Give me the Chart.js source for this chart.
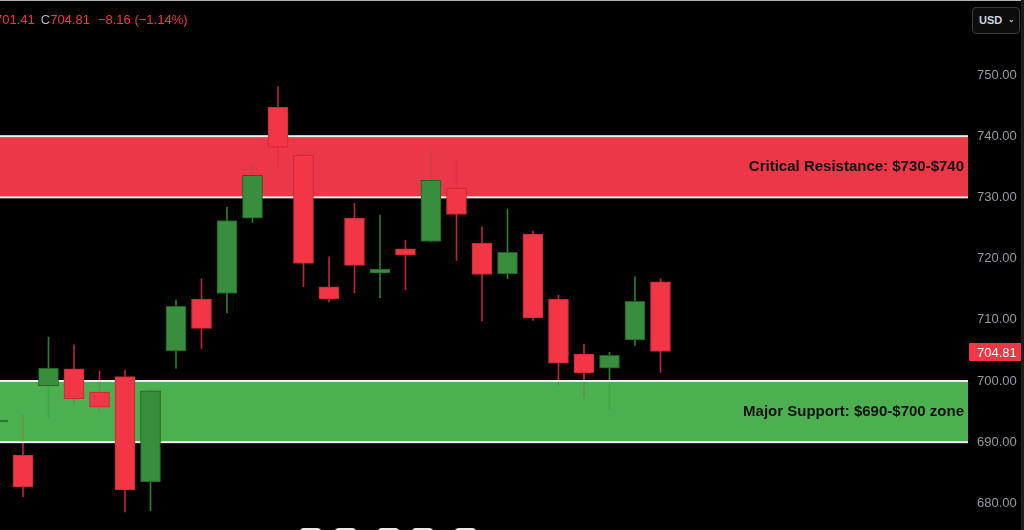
<!DOCTYPE html>
<html>
<head>
<meta charset="utf-8">
<script src="https://cdn.jsdelivr.net/npm/chart.js@4.4.1/dist/chart.umd.min.js"></script>
<style>
    html, body { margin: 0; padding: 0; background: #000; overflow: hidden; }
    #wrap { position: relative; width: 1024px; height: 530px; }
    #legend { position: absolute; left: -5px; top: 12px; font: 13px 'Liberation Sans', Arial, sans-serif; color: #f23645; white-space: nowrap; }
    #legend .c { color: #b2b5be; margin-left: 6px; }
    #legend .chg { margin-left: 8px; }
    #usd { position: absolute; left: 972px; top: 7px; width: 48px; height: 27px; box-sizing: border-box; border: 1px solid #3a3a3a; border-radius: 4px; background: #0c0c0c; color: #d1d4dc; font: bold 11px 'Liberation Sans', Arial, sans-serif; line-height: 25px; padding-left: 6px; }
    #usd span { position: absolute; right: 4px; top: -1px; font-size: 8px; color: #c0c3cb; }
    .frame-top { position: absolute; left: 0; top: 0; width: 1024px; height: 1px; background: #b0b0b0; }
    .frame-right { position: absolute; left: 1021px; top: 0; width: 3px; height: 530px; background: #1c1c1c; }
    .pill { position: absolute; top: 528px; width: 23px; height: 10px; border-radius: 5px; background: #e8e8e8; }
</style>
</head>
<body>
<div id="wrap">
    <canvas id="priceChart" width="1024" height="530"></canvas>
    <div class="frame-top"></div>
    <div class="frame-right"></div>
    <div id="legend">701.41<span class="c">C</span>704.81<span class="chg">−8.16 (−1.14%)</span></div>
    <div id="usd">USD<span>⌄</span></div>
    <div class="pill" style="left:299px"></div>
    <div class="pill" style="left:334px"></div>
    <div class="pill" style="left:377px"></div>
    <div class="pill" style="left:411px"></div>
    <div class="pill" style="left:454px"></div>
</div>
<script>
// --- data ---
const sessions = [-1, 0, 1, 2, 3, 4, 5, 6, 7, 8, 9, 10, 11, 12, 13, 14, 15, 16, 17, 18, 19, 20, 21, 22, 23, 24, 25];
const opens  = [693.3, 687.9, 699.2, 702.0, 698.2, 700.7, 683.5, 704.9, 713.4, 714.3, 726.6, 744.7, 736.9, 715.4, 726.6, 717.6, 721.6, 722.8, 731.5, 722.5, 717.5, 724.0, 713.4, 704.4, 702.1, 706.7, 716.2];
const highs  = [693.6, 694.4, 707.2, 705.9, 701.6, 701.8, 698.6, 713.2, 716.7, 728.4, 735.6, 748.1, 737.2, 720.3, 729.0, 727.1, 723.0, 737.6, 735.8, 725.2, 728.1, 724.5, 714.0, 706.0, 704.7, 717.0, 716.7];
const lows   = [693.2, 681.1, 694.0, 696.1, 695.0, 678.6, 678.8, 702.1, 705.3, 711.1, 725.9, 735.1, 715.4, 712.9, 714.4, 713.6, 714.9, 722.8, 719.7, 709.8, 716.7, 709.9, 699.3, 697.2, 695.3, 705.8, 701.4];
const closes = [693.4, 682.7, 702.1, 697.1, 695.7, 682.2, 698.4, 712.2, 708.6, 726.2, 733.6, 738.2, 719.2, 713.4, 718.9, 718.3, 720.6, 732.8, 727.2, 717.4, 721.0, 710.3, 702.9, 701.3, 704.2, 713.0, 704.81];

const tickValues = [680, 690, 700, 710, 720, 730, 740, 750];

const resistanceZone = [730, 740];
const supportZone = [690, 700];
const resistanceLabel = 'Critical Resistance: $730-$740';
const supportLabel = 'Major Support: $690-$700 zone';

const lastPrice = closes[closes.length - 1];

// --- colours ---
const UP = '#388e3c', UP_EDGE = '#1e5e22', UP_WICK = '#2e7d32';
const DOWN = '#f23645', DOWN_EDGE = '#c42a38', DOWN_WICK = '#b3283a';
const RES_FILL = '#eb3747', SUP_FILL = '#4caf50';

const isUp = sessions.map((_, i) => closes[i] >= opens[i]);

const wickData = sessions.map((x, i) => ({ x: x, y: [lows[i], highs[i]] }));
const bodyData = sessions.map((x, i) => ({ x: x, y: [Math.min(opens[i], closes[i]), Math.max(opens[i], closes[i])] }));

const zoneRect = (chart, zone) => {
    const { chartArea, scales: { y } } = chart;
    const top = y.getPixelForValue(zone[1]);
    const bottom = y.getPixelForValue(zone[0]);
    return { x: chartArea.left, y: top, w: chartArea.right - chartArea.left, h: bottom - top };
};

// zones go under the wicks, then a second wash on top of wicks (they show faintly),
// bodies are drawn last over everything
const zonePlugin = {
    id: 'zones',
    beforeDatasetsDraw(chart) {
        const { ctx } = chart;
        ctx.save();
        [[resistanceZone, RES_FILL], [supportZone, SUP_FILL]].forEach(([zone, fill]) => {
            const r = zoneRect(chart, zone);
            ctx.fillStyle = fill;
            ctx.fillRect(r.x, r.y, r.w, r.h);
        });
        ctx.restore();
    },
    beforeDatasetDraw(chart, args) {
        if (args.index !== 1) return;
        const { ctx, chartArea, scales: { y } } = chart;
        ctx.save();
        [[resistanceZone, RES_FILL, resistanceLabel], [supportZone, SUP_FILL, supportLabel]].forEach(([zone, fill, label]) => {
            const r = zoneRect(chart, zone);
            ctx.globalAlpha = 0.8;
            ctx.fillStyle = fill;
            ctx.fillRect(r.x, r.y, r.w, r.h);
            ctx.globalAlpha = 1;
            ctx.fillStyle = '#eeeeee';
            ctx.fillRect(r.x, r.y - 1, r.w, 2);
            ctx.fillRect(r.x, r.y + r.h - 1, r.w, 2);
            ctx.fillStyle = '#111';
            ctx.font = "bold 15px 'Liberation Sans', Arial, sans-serif";
            ctx.textAlign = 'right';
            ctx.textBaseline = 'middle';
            ctx.fillText(label, chartArea.right - 4, y.getPixelForValue((zone[0] + zone[1]) / 2));
        });
        ctx.restore();
    },
    afterDraw(chart) {
        const { ctx, chartArea, scales: { y } } = chart;
        const py = Math.round(y.getPixelForValue(lastPrice));
        ctx.save();
        ctx.fillStyle = '#f23645';
        ctx.fillRect(chartArea.right + 1, py - 9, 52, 18);
        ctx.fillStyle = '#ffffff';
        ctx.font = "13px 'Liberation Sans', Arial, sans-serif";
        ctx.textAlign = 'left';
        ctx.textBaseline = 'middle';
        ctx.fillText(lastPrice.toFixed(2), chartArea.right + 9, py + 1);
        ctx.restore();
    }
};

const ctx = document.getElementById('priceChart').getContext('2d');

new Chart(ctx, {
    type: 'bar',
    data: {
        datasets: [
            {
                label: 'wick',
                data: wickData,
                backgroundColor: isUp.map(u => u ? UP_WICK : DOWN_WICK),
                barThickness: 1,
                grouped: false,
                order: 2
            },
            {
                label: 'body',
                data: bodyData,
                backgroundColor: isUp.map(u => u ? UP : DOWN),
                borderColor: isUp.map(u => u ? UP_EDGE : DOWN_EDGE),
                borderWidth: 1,
                borderSkipped: false,
                barThickness: 20,
                grouped: false,
                minBarLength: 2,
                order: 1
            }
        ]
    },
    options: {
        responsive: false,
        animation: false,
        layout: { padding: 0 },
        plugins: {
            legend: { display: false },
            tooltip: { enabled: false }
        },
        scales: {
            x: {
                type: 'linear',
                min: -0.902,
                max: 37.06,
                offset: false,
                display: false
            },
            y: {
                position: 'right',
                min: 675.65,
                max: 762.25,
                grid: { display: false, drawTicks: false },
                border: { display: false },
                ticks: {
                    color: '#9598a1',
                    padding: 9,
                    font: { family: "'Liberation Sans', Arial, sans-serif", size: 13 },
                    callback: v => v.toFixed(2)
                },
                afterBuildTicks: scale => { scale.ticks = tickValues.map(v => ({ value: v })); },
                afterFit: scale => {
                    scale.width = 56;
                    scale.paddingTop = 0;
                    scale.paddingBottom = 0;
                }
            }
        }
    },
    plugins: [zonePlugin]
});
</script>
</body>
</html>
